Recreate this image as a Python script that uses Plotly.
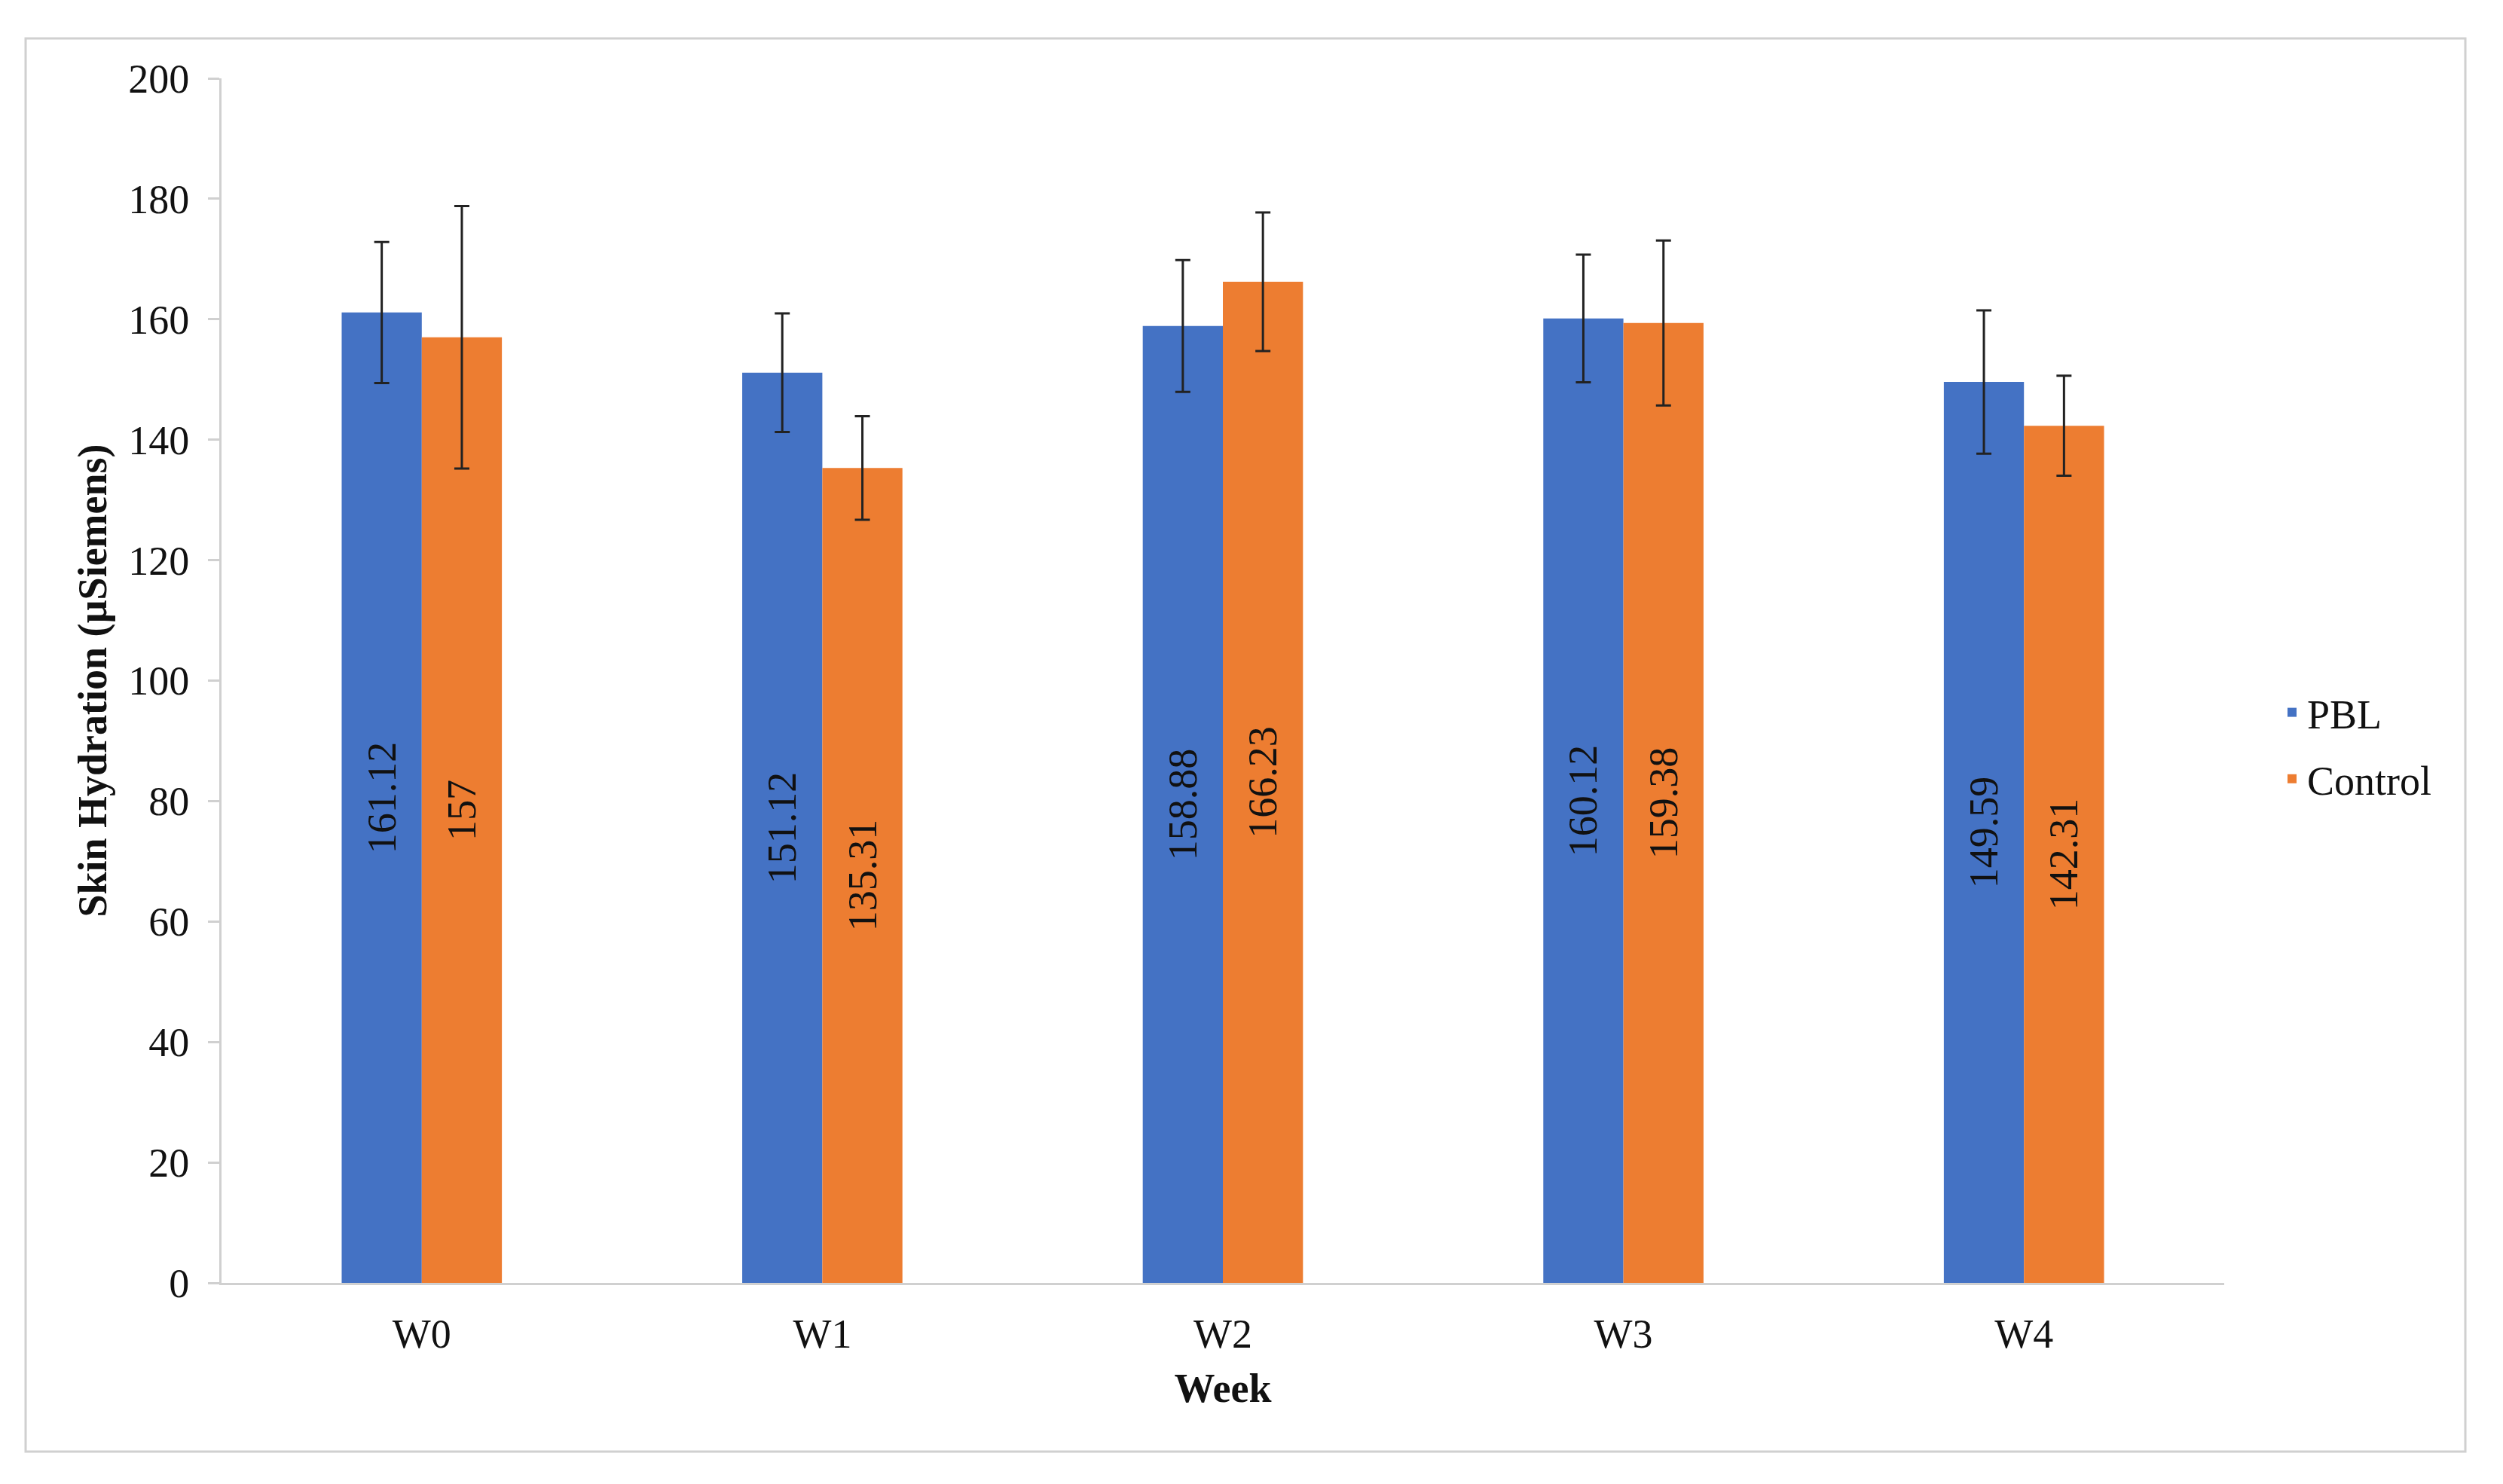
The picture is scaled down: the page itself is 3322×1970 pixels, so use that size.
import plotly.graph_objects as go

weeks = ["W0", "W1", "W2", "W3", "W4"]
pbl = [161.12, 151.12, 158.88, 160.12, 149.59]
pbl_err = [11.7, 9.85, 10.95, 10.6, 11.9]
control = [157, 135.31, 166.23, 159.38, 142.31]
control_err = [21.8, 8.6, 11.5, 13.7, 8.3]
y_ticks = [0, 20, 40, 60, 80, 100, 120, 140, 160, 180, 200]

# page body has an 8px margin; work in figure-local pixels
OFF = 8
W, H = 3322 - 2 * OFF, 1970 - 2 * OFF
L, T = 294 - OFF, 104 - OFF
PR, PB = 2952 - OFF, 1703 - OFF   # plot right / bottom in figure pixels
R, B = W - PR, H - PB
FONT = "Liberation Serif, Times New Roman, serif"
FS = 54

fig = go.Figure()
for i, (name, vals, errs, col) in enumerate([("PBL", pbl, pbl_err, "#4472C4"),
                                             ("Control", control, control_err, "#ED7D31")]):
    fig.add_trace(go.Bar(
        x=weeks, y=vals, name=name, legendgroup=f"g{i}",
        marker=dict(color=col, line=dict(width=0)),
        error_y=dict(type="data", array=errs, visible=True,
                     color="#222222", thickness=3, width=10),
        texttemplate="%{y}", textposition="inside", insidetextanchor="middle",
        textangle=-90, textfont=dict(family=FONT, size=FS, color="#111111"),
        constraintext="none",
    ))

pw = W - L - R
ph = H - T - B
def px2paper_x(px):
    return (px - OFF - L) / pw
def px2paper_y(py):
    return (PB - (py - OFF)) / ph

fig.add_shape(type="rect", xref="paper", yref="paper",
              x0=px2paper_x(34), x1=px2paper_x(3272),
              y0=px2paper_y(1927), y1=px2paper_y(51),
              line=dict(color="#d0d0d0", width=3), fillcolor="rgba(0,0,0,0)",
              layer="below")

fig.update_layout(
    width=W, height=H,
    margin=dict(l=L, r=R, t=T, b=B, autoexpand=False),
    paper_bgcolor="white", plot_bgcolor="white",
    barmode="group", bargap=0.6, bargroupgap=0,
    font=dict(family=FONT, size=FS, color="#111111"),
    showlegend=True,
    legend=dict(x=px2paper_x(3022), y=px2paper_y(990), xanchor="left", yanchor="middle",
                font=dict(family=FONT, size=FS, color="#111111"),
                itemwidth=30, tracegroupgap=15, bgcolor="rgba(0,0,0,0)"),
)
fig.update_xaxes(
    showline=True, linecolor="#d0d0d0", linewidth=3,
    ticks="", showgrid=False, zeroline=False,
    tickfont=dict(family=FONT, size=FS, color="#111111"),
    ticklabelstandoff=18,
    title=dict(text="<b>Week</b>", font=dict(family=FONT, size=FS, color="#111111"), standoff=24),
    automargin=False,
)
fig.update_yaxes(
    range=[0, 200], tickvals=y_ticks,
    showline=True, linecolor="#d0d0d0", linewidth=3,
    ticks="outside", ticklen=15, tickwidth=3, tickcolor="#d0d0d0",
    showgrid=False, zeroline=False,
    tickfont=dict(family=FONT, size=FS, color="#111111"),
    ticklabelstandoff=14,
    title=dict(text="<b>Skin Hydration (µSiemens)</b>", font=dict(family=FONT, size=FS, color="#111111"), standoff=12),
    automargin=False,
)

fig.write_html("out.html")
